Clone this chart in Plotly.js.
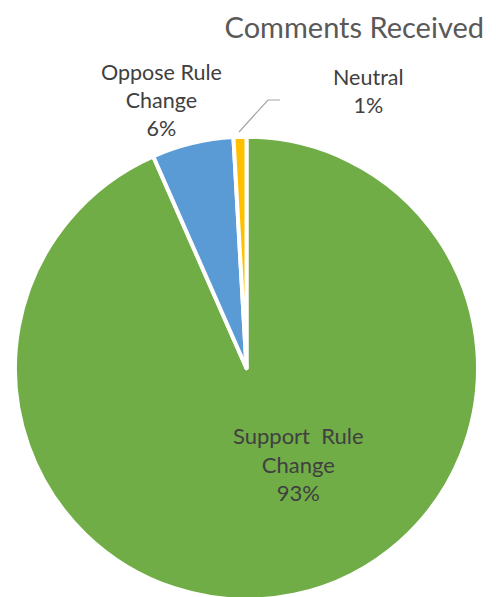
<!DOCTYPE html>
<html>
<head>
<meta charset="utf-8">
<script src="https://cdn.plot.ly/plotly-3.0.1.min.js"></script>
<style>html,body{margin:0;padding:0;background:#fff;overflow:hidden;}#chart{width:496px;height:600px;}</style>
</head>
<body>
<div id="chart"></div>
<script>
// Data
const categories = ["Support Rule Change", "Oppose Rule Change", "Neutral"];
const labelLines = [["Support  Rule", "Change"], ["Oppose Rule", "Change"], ["Neutral"]];
const values = [93.4, 5.7, 0.9];
const colors = ["#70AD47", "#5B9BD5", "#FFC000"];
const chartTitle = "Comments Received";

const W = 496, H = 600;
const px = x => x / W;
const py = y => 1 - y / H;

const total = values.reduce((a, b) => a + b, 0);
const pct = values.map(v => Math.round(v / total * 100) + "%");
const labelText = labelLines.map((lines, i) => lines.concat([pct[i]]).join("<br>"));

// label placement (pixels)
const labelPos = [
  {x: 298, y: 464, size: 22},
  {x: 161, y: 100, size: 21.5},
  {x: 368, y: 91, size: 21.5}
];

const trace = {
  type: "pie",
  labels: categories,
  values: values,
  sort: false,
  direction: "clockwise",
  rotation: 0,
  marker: {colors: colors, line: {color: "#ffffff", width: 4}},
  textinfo: "none",
  hoverinfo: "skip",
  domain: {x: [px(15), px(478)], y: [0, py(136.5)]},
  showlegend: false
};

const layout = {
  width: W, height: H,
  margin: {l: 0, r: 0, t: 0, b: 0},
  paper_bgcolor: "#ffffff",
  plot_bgcolor: "#ffffff",
  font: {family: "Lato, 'Open Sans', sans-serif", color: "#404040"},
  title: {
    text: chartTitle,
    font: {family: "Lato, 'Open Sans', sans-serif", size: 29, color: "#595959"},
    x: px(484), xanchor: "right", xref: "paper",
    y: py(28), yanchor: "middle", yref: "container"
  },
  annotations: labelText.map((t, i) => ({
    text: t,
    x: px(labelPos[i].x), y: py(labelPos[i].y),
    xref: "paper", yref: "paper",
    xanchor: "center", yanchor: "middle",
    showarrow: false,
    align: "center",
    font: {family: "Lato, 'Open Sans', sans-serif", size: labelPos[i].size, color: "#404040"}
  })),
  shapes: [{
    type: "path",
    xref: "paper", yref: "paper",
    path: `M ${px(239)} ${py(132)} L ${px(268)} ${py(100)} L ${px(280)} ${py(100)}`,
    line: {color: "#A6A6A6", width: 1.2}
  }]
};

Plotly.newPlot("chart", [trace], layout, {staticPlot: true, displayModeBar: false});
</script>
</body>
</html>
